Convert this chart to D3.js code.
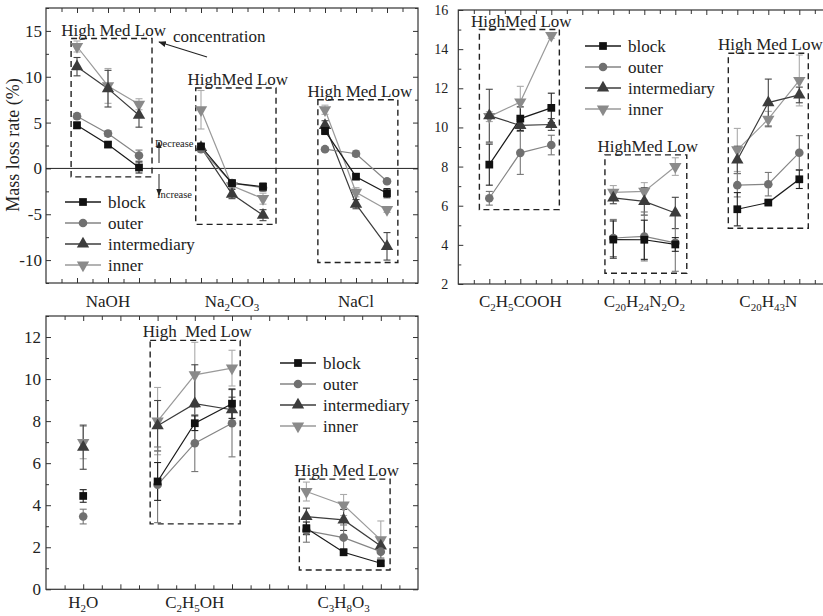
<!DOCTYPE html>
<html>
<head>
<meta charset="utf-8">
<title>Mass loss rate</title>
<script src="https://cdn.jsdelivr.net/npm/d3@7"></script>
<style>
body { margin: 0; background: #fff; }
svg text { font-family: "Liberation Serif", "DejaVu Serif", serif; fill: #222; }
</style>
</head>
<body>
<script>
// ---- data ----
var seriesNames = ["block", "outer", "intermediary", "inner"];

// top-left panel: NaOH, Na2CO3, NaCl  (High, Med, Low for each)
var catsA = ["NaOH", "Na2CO3", "NaCl"];
var catPosA = [2, 6, 10];
var xA = [1, 2, 3, 5, 6, 7, 9, 10, 11];
var groupsA = [[0, 1, 2], [3, 4, 5], [6, 7, 8]];
var blockA = [4.7, 2.6, 0.1, 2.4, -1.6, -2.0, 4.1, -0.9, -2.7];
var outerA = [5.7, 3.8, 1.4, 2.1, -1.6, -2.1, 2.1, 1.6, -1.4];
var interA = [11.1, 8.7, 5.8, 2.3, -2.8, -5.1, 4.7, -3.9, -8.5];
var innerA = [13.3, 9.0, 7.0, 6.4, -1.9, -3.3, 6.4, -2.6, -4.5];
var blockErrA = [0.35, 0.3, 0.6, 0.3, 0.3, 0.4, 0.4, 0.3, 0.5];
var outerErrA = [0.3, 0.3, 0.6, 0.3, 0.3, 0.4, 0.2, 0.3, 0.2];
var interErrA = [1.0, 2.0, 1.3, 0.3, 0.5, 0.6, 0.5, 0.5, 1.5];
var innerErrA = [0.6, 1.9, 0.6, 2.1, 0.3, 0.6, 0.5, 0.5, 0.3];
var boxesA = [[0.81, 3.42, -0.92, 14.17], [4.83, 7.42, -6.1, 8.77], [8.77, 11.35, -10.27, 7.49]];
var boxLabelsA = ["High Med Low", "HighMed Low", "High Med Low"];

// top-right panel: C2H5COOH, C20H24N2O2, C20H43N
var catsB = ["C2H5COOH", "C20H24N2O2", "C20H43N"];
var catPosB = [2, 6, 10];
var xB = [1, 2, 3, 5, 6, 7, 9, 10, 11];
var groupsB = [[0, 1, 2], [3, 4, 5], [6, 7, 8]];
var blockB = [8.1, 10.45, 11.0, 4.27, 4.26, 4.02, 5.82, 6.16, 7.35];
var outerB = [6.38, 8.7, 9.1, 4.35, 4.43, 4.1, 7.05, 7.1, 8.71];
var interB = [10.6, 10.1, 10.15, 6.4, 6.22, 5.63, 8.34, 11.27, 11.66];
var innerB = [10.55, 11.3, 14.7, 6.68, 6.73, 8.0, 8.85, 10.42, 12.4];
var blockErrB = [1.05, 0.6, 0.75, 0.95, 1.0, 0.35, 0.85, 0.1, 0.47];
var outerErrB = [0.35, 1.1, 0.5, 0.95, 1.25, 1.45, 0.6, 0.6, 0.87];
var interErrB = [1.35, 0.3, 0.3, 0.3, 0.7, 0.8, 0.7, 1.2, 0.4];
var innerErrB = [0.25, 0.8, 0.15, 0.35, 0.45, 0.45, 1.1, 0.4, 1.3];
var boxesB = [[0.68, 3.26, 5.8, 15.0], [4.73, 7.37, 2.55, 8.6], [8.71, 11.29, 4.85, 13.79]];
var boxLabelsB = ["HighMed Low", "HighMed Low", "High Med Low"];

// bottom panel: H2O, C2H5OH, C3H8O3
var catsC = ["H2O", "C2H5OH", "C3H8O3"];
var catPosC = [1, 4, 8];
var xC = [1, 3, 4, 5, 7, 8, 9];
var groupsC = [[0], [1, 2, 3], [4, 5, 6]];
var blockC = [4.44, 5.13, 7.9, 8.83, 2.9, 1.76, 1.24];
var outerC = [3.46, 4.97, 6.95, 7.9, 2.79, 2.46, 1.79];
var interC = [6.76, 7.78, 8.83, 8.54, 3.46, 3.3, 2.06];
var innerC = [6.98, 8.0, 10.2, 10.52, 4.65, 4.01, 2.35];
var blockErrC = [0.3, 0.9, 0.35, 0.7, 0.3, 0.15, 0.1];
var outerErrC = [0.35, 1.8, 1.35, 1.6, 0.55, 0.6, 0.3];
var interErrC = [1.05, 1.2, 1.85, 0.6, 0.4, 0.5, 0.3];
var innerErrC = [0.77, 1.6, 1.55, 0.85, 0.45, 0.5, 0.9];
var boxesC = [[2.8, 5.22, 3.11, 11.84], [6.81, 9.25, 0.92, 5.24]];
var boxLabelsC = ["High  Med Low", "High Med Low"];

// ---- styles ----
var FONT = "'Liberation Serif', 'DejaVu Serif', serif";
var sty = {
  block:        { shape: d3.symbolSquare,   size: 60, fill: "#111",    line: "#1a1a1a", err: "#222", rot: 0 },
  outer:        { shape: d3.symbolCircle,   size: 58, fill: "#707070", line: "#858585", err: "#777", rot: 0 },
  intermediary: { shape: d3.symbolTriangle, size: 66, fill: "#3c3c3c", line: "#3c3c3c", err: "#444", rot: 0 },
  inner:        { shape: d3.symbolTriangle, size: 66, fill: "#8a8a8a", line: "#9a9a9a", err: "#aaa", rot: 180 }
};

var svg = d3.select("body").append("svg").attr("width", 823).attr("height", 616)
  .style("font-family", FONT);

svg.append("defs").append("marker")
  .attr("id", "arr").attr("viewBox", "0 0 10 10").attr("refX", 9).attr("refY", 5)
  .attr("markerWidth", 7).attr("markerHeight", 7).attr("orient", "auto")
  .append("path").attr("d", "M0,1 L10,5 L0,9 Z").attr("fill", "#222");

function catLabel(g, str, x, y) {
  var t = g.append("text").attr("x", x).attr("y", y).attr("text-anchor", "middle")
    .style("font-family", FONT).style("font-size", "17px");
  var shifted = false;
  str.split(/(\d+)/).forEach(function (part, i) {
    if (!part) return;
    if (i % 2 === 1) {
      t.append("tspan").attr("dy", 4).style("font-size", "11px").text(part);
      shifted = true;
    } else {
      t.append("tspan").attr("dy", shifted ? -4 : 0).text(part);
      shifted = false;
    }
  });
}

function drawPanel(p) {
  var x = d3.scaleLinear().domain(p.xDomain).range([p.left, p.right]);
  var y = d3.scaleLinear().domain(p.yDomain).range([p.bottom, p.top]);
  var g = svg.append("g");

  var yMinor = d3.range(p.yDomain[0], p.yDomain[1] + 0.001, p.yMinorStep)
    .filter(function (v) { return p.yMajor.indexOf(v) < 0; });
  var xTicks = d3.range(p.xDomain[0] + 0.5, p.xDomain[1], 0.5);
  var xMajor = xTicks.filter(function (v) { return v % 1 === 0; });
  var xMinor = xTicks.filter(function (v) { return v % 1 !== 0; });

  function ax(axis, tx, ty) {
    var a = g.append("g").attr("transform", "translate(" + tx + "," + ty + ")").call(axis);
    a.select(".domain").remove();
    a.attr("font-family", null);
    a.selectAll("line").attr("stroke", "#333");
    return a;
  }
  var yl = ax(d3.axisLeft(y).tickValues(p.yMajor).tickSize(-5).tickPadding(p.yPad).tickFormat(function (d) { return String(d); }), p.left, 0);
  yl.selectAll("text").style("font-size", p.yFont + "px").style("font-family", FONT).attr("fill", "#222");
  ax(d3.axisLeft(y).tickValues(yMinor).tickSize(-3).tickFormat(""), p.left, 0);
  ax(d3.axisRight(y).tickValues(p.yMajor).tickSize(-5).tickFormat(""), p.right, 0);
  ax(d3.axisRight(y).tickValues(yMinor).tickSize(-3).tickFormat(""), p.right, 0);
  ax(d3.axisBottom(x).tickValues(xMajor).tickSize(-5).tickFormat(""), 0, p.bottom);
  ax(d3.axisBottom(x).tickValues(xMinor).tickSize(-4).tickFormat(""), 0, p.bottom);
  ax(d3.axisTop(x).tickValues(xMajor).tickSize(-5).tickFormat(""), 0, p.top);
  ax(d3.axisTop(x).tickValues(xMinor).tickSize(-4).tickFormat(""), 0, p.top);
  // drop the empty label nodes of the unlabeled axes
  g.selectAll("text").filter(function () { return !this.textContent; }).remove();

  g.append("rect").attr("x", p.left).attr("y", p.top)
    .attr("width", p.right - p.left).attr("height", p.bottom - p.top)
    .attr("fill", "none").attr("stroke", "#333").attr("stroke-width", 1.2);

  if (p.zeroLine) {
    g.append("line").attr("x1", p.left).attr("x2", p.right)
      .attr("y1", y(0)).attr("y2", y(0)).attr("stroke", "#222").attr("stroke-width", 1);
  }

  // dashed boxes with High/Med/Low labels
  p.boxes.forEach(function (b, i) {
    g.append("rect").attr("x", x(b[0])).attr("y", y(b[3]))
      .attr("width", x(b[1]) - x(b[0])).attr("height", y(b[2]) - y(b[3]))
      .attr("fill", "none").attr("stroke", "#222").attr("stroke-width", 1.4)
      .attr("stroke-dasharray", "6,4");
    g.append("text").attr("x", (x(b[0]) + x(b[1])) / 2 + 2).attr("y", y(b[3]) - 3)
      .attr("text-anchor", "middle").style("font-size", "17px").style("font-family", FONT)
      .attr("xml:space", "preserve").style("white-space", "pre")
      .text(p.boxLabels[i]);
  });

  // series
  var order = ["inner", "intermediary", "outer", "block"];
  order.forEach(function (name) {
    var s = sty[name], vals = p.vals[name], errs = p.errs[name];
    var line = d3.line().x(function (i) { return x(p.xs[i]); }).y(function (i) { return y(vals[i]); });
    p.groups.forEach(function (grp) {
      if (grp.length > 1) g.append("path").attr("d", line(grp)).attr("fill", "none")
        .attr("stroke", s.line).attr("stroke-width", 1.2);
    });
    vals.forEach(function (v, i) {
      var cx = x(p.xs[i]), lo = y(v - errs[i]), hi = y(v + errs[i]);
      g.append("line").attr("x1", cx).attr("x2", cx).attr("y1", lo).attr("y2", hi).attr("stroke", s.err).attr("stroke-width", 1.1);
      [lo, hi].forEach(function (yy) {
        g.append("line").attr("x1", cx - 3.5).attr("x2", cx + 3.5).attr("y1", yy).attr("y2", yy).attr("stroke", s.err).attr("stroke-width", 1.1);
      });
    });
  });
  order.forEach(function (name) {
    var s = sty[name], vals = p.vals[name];
    vals.forEach(function (v, i) {
      g.append("path").attr("d", d3.symbol().type(s.shape).size(s.size)())
        .attr("transform", "translate(" + x(p.xs[i]) + "," + y(v) + ") rotate(" + s.rot + ")")
        .attr("fill", s.fill);
    });
  });

  // category labels
  p.cats.forEach(function (c, i) { catLabel(g, c, x(p.catPos[i]), p.catY); });

  // legend
  seriesNames.forEach(function (name, i) {
    var s = sty[name], ly = p.legend.y + i * 21;
    g.append("line").attr("x1", p.legend.x).attr("x2", p.legend.x + 36).attr("y1", ly).attr("y2", ly)
      .attr("stroke", s.line).attr("stroke-width", 1.3);
    g.append("path").attr("d", d3.symbol().type(s.shape).size(s.size)())
      .attr("transform", "translate(" + (p.legend.x + 18) + "," + ly + ") rotate(" + s.rot + ")")
      .attr("fill", s.fill);
    g.append("text").attr("x", p.legend.x + 43).attr("y", ly + 6)
      .style("font-size", "17px").style("font-family", FONT).text(name);
  });

  return { x: x, y: y, g: g };
}

function pack(b, o, m, n) { return { block: b, outer: o, intermediary: m, inner: n }; }

drawPanel({
  left: 46, right: 418, top: 8, bottom: 283,
  xDomain: [0, 12], yDomain: [-12.5, 17.5],
  yMajor: [-10, -5, 0, 5, 10, 15], yMinorStep: 2.5, yFont: 17, yPad: 4,
  xs: xA, groups: groupsA,
  vals: pack(blockA, outerA, interA, innerA),
  errs: pack(blockErrA, outerErrA, interErrA, innerErrA),
  boxes: boxesA, boxLabels: boxLabelsA,
  cats: catsA, catPos: catPosA, catY: 307,
  legend: { x: 65, y: 202 }, zeroLine: true
});

drawPanel({
  left: 458.3, right: 830.3, top: 10, bottom: 284,
  xDomain: [0, 12], yDomain: [2, 16],
  yMajor: [2, 4, 6, 8, 10, 12, 14, 16], yMinorStep: 1, yFont: 14, yPad: 10,
  xs: xB, groups: groupsB,
  vals: pack(blockB, outerB, interB, innerB),
  errs: pack(blockErrB, outerErrB, interErrB, innerErrB),
  boxes: boxesB, boxLabels: boxLabelsB,
  cats: catsB, catPos: catPosB, catY: 307,
  legend: { x: 585, y: 46 }
});

drawPanel({
  left: 46, right: 418, top: 316, bottom: 589.3,
  xDomain: [0, 10], yDomain: [0, 13],
  yMajor: [0, 2, 4, 6, 8, 10, 12], yMinorStep: 1, yFont: 17, yPad: 5,
  xs: xC, groups: groupsC,
  vals: pack(blockC, outerC, interC, innerC),
  errs: pack(blockErrC, outerErrC, interErrC, innerErrC),
  boxes: boxesC, boxLabels: boxLabelsC,
  cats: catsC, catPos: catPosC, catY: 608,
  legend: { x: 280, y: 363 }
});

// annotations on the first panel
function note(x, y, size, str) {
  return svg.append("text").attr("x", x).attr("y", y)
    .style("font-size", size + "px").style("font-family", FONT).text(str);
}
svg.append("text").attr("transform", "translate(19,145) rotate(-90)")
  .attr("text-anchor", "middle").style("font-size", "18px").style("font-family", FONT)
  .text("Mass loss rate (%)");

note(173, 42, 17, "concentration");
svg.append("line").attr("x1", 207).attr("y1", 57).attr("x2", 159).attr("y2", 42)
  .attr("stroke", "#222").attr("stroke-width", 1.1).attr("marker-end", "url(#arr)");

note(155, 147, 10.5, "Decrease");
note(157, 198, 10.5, "Increase");
svg.append("line").attr("x1", 159).attr("x2", 159).attr("y1", 163).attr("y2", 142)
  .attr("stroke", "#222").attr("stroke-width", 1).attr("marker-end", "url(#arr)");
svg.append("line").attr("x1", 159).attr("x2", 159).attr("y1", 174).attr("y2", 195)
  .attr("stroke", "#222").attr("stroke-width", 1).attr("marker-end", "url(#arr)");
</script>
</body>
</html>
